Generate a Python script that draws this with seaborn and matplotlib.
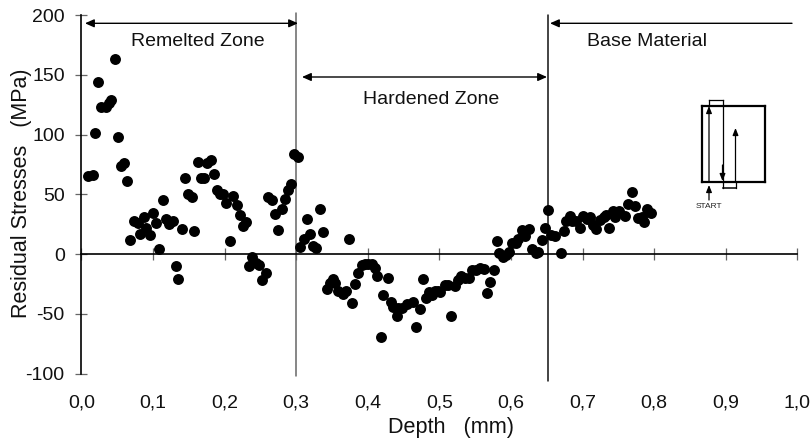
import matplotlib
matplotlib.use("Agg")
import matplotlib.pyplot as plt
import seaborn as sns
import pandas as pd

depth = [.009,.016,.024,.019,.028,.034,.038,.041,.047,.051,.055,.060,.064,.0685,.073,.079,.082,.087,.091,.096,.1006,.104,.109,.1136,.118,.122,.124,.128,.132,.135,.140,.145,.149,.154,.158,.163,.1665,.172,.176,.181,.1855,.189,.194,.1985,.2027,.208,.212,.217,.221,.2255,.230,.234,.239,.2436,.2486,.252,.258,.261,.266,.2705,.275,.280,.284,.288,.293,.297,.302,.306,.311,.315,.3197,.324,.328,.333,.337,.3425,.347,.352,.355,.359,.365,.369,.374,.378,.382,.387,.392,.396,.401,.4056,.410,.4135,.418,.422,.4280,.4320,.4355,.4405,.4425,.4485,.4545,.4635,.4675,.4725,.4771,.4815,.4850,.4895,.4935,.4975,.5015,.5075,.5115,.517,.5215,.5265,.531,.5355,.5412,.5455,.5515,.5575,.5625,.5665,.5705,.576,.5802,.584,.5885,.5932,.5975,.6015,.6065,.6105,.615,.6195,.6252,.6295,.6345,.6385,.6428,.6475,.6515,.6565,.6619,.6695,.674,.677,.6825,.6855,.6915,.6965,.7005,.706,.7105,.7145,.719,.7245,.7295,.733,.737,.7425,.7455,.7515,.7595,.763,.7685,.7735,.777,.7825,.7865,.7905,.7955]
stress = [65,66,144,101,123,123,126,129,163,98,74,76,61,11.7,27.6,26,17,31,22,16,34,26,4.7,45,29,25,27,28,-10,-21,21,64,50,48,19.5,77,64,63.6,76,79,67,54,50,50.5,42.7,11.4,48.5,40.7,32.6,23.7,27,-10.3,-2.5,-7.5,-9.2,-22,-16,48,45,33.8,20.4,38,45.7,54,59,84,81,6,12.5,29,17,7,5,37.5,18.7,-29,-24,-21,-24,-31,-33.5,-30.7,13,-40.7,-24.8,-16,-9,-8.6,-8.6,-8.6,-11.7,-18.4,-69,-34,-20,-40,-44,-52,-45,-45,-42,-40,-61,-46,-21,-37,-31.5,-34,-31,-31,-32,-25.7,-25.7,-52,-27,-21.5,-18,-20,-20,-13,-13,-11.4,-12.5,-32.6,-23,-13.4,11.4,.8,-2,-1,2,9,9,12.5,20,15,21,4.7,.8,1.7,12,22,36.5,15.6,14.8,1,19,28,32,28,28,21.8,32,29,31,24.5,21,28.7,31,33,22,35.7,31,35.7,32,41.8,51.6,40,30,31,26.5,37.7,34]
x_ticks = [0.0,0.1,0.2,0.3,0.4,0.5,0.6,0.7,0.8,0.9,1.0]
x_tick_labels = ["0,0","0,1","0,2","0,3","0,4","0,5","0,6","0,7","0,8","0,9","1,0"]
y_ticks = [-100,-50,0,50,100,150,200]
y_tick_labels = ["-100","-50","0","50","100","150","200"]
zone_edges = [0.3,0.652]

sns.set_theme(style="white")
plt.rcParams['font.family'] = ['Liberation Sans','DejaVu Sans']

W,H = 810,441
L,R,T,B = 81.3,797.3,15.0,373.7
fig = plt.figure(figsize=(W/100,H/100),dpi=100)
ax = fig.add_axes([L/W,1-B/H,(R-L)/W,(B-T)/H])
df = pd.DataFrame({"depth":depth,"stress":stress})
sns.scatterplot(data=df,x="depth",y="stress",ax=ax,color="black",s=62,linewidth=0,zorder=5,clip_on=False)
ax.set_xlim(0,1); ax.set_ylim(-100,200)
ax.patch.set_alpha(0)
for s in ("top","right"): ax.spines[s].set_visible(False)
ax.spines["left"].set(color="black",linewidth=1.2)
ax.spines["bottom"].set_position(("data",0))
ax.spines["bottom"].set(color="black",linewidth=1.2)
ax.set_xticks(x_ticks); ax.set_xticklabels(x_tick_labels)
ax.set_yticks(y_ticks); ax.set_yticklabels(y_tick_labels)
ax.tick_params(axis="x",direction="inout",length=9,width=0.9,color="#666666",labelsize=14,labelcolor="#111111",bottom=True,pad=96.5)
ax.tick_params(axis="y",direction="inout",length=9,width=0.9,color="#666666",labelsize=14,labelcolor="#111111",left=True,pad=7.5)
ax.set_xlabel(""); ax.set_ylabel("")
fig.text(451/W,1-427/H,"Depth   (mm)",ha="center",va="center",fontsize=15.6,color="#111111")
fig.text(22/W,1-193/H,"Residual Stresses   (MPa)",rotation=90,ha="center",va="center",fontsize=15.5,color="#111111")

def px(x,y): return ((x-L)/(R-L),(B-y)/(B-T)*300-100)

# zone boundaries
a,b = px(297.3,13),px(297.3,376)
ax.plot([zone_edges[0]]*2,[a[1],b[1]],color="#666666",lw=1.1,clip_on=False,zorder=2)
a,b = px(548,15),px(548,381)
ax.plot([zone_edges[1]]*2,[a[1],b[1]],color="#111111",lw=1.1,clip_on=False,zorder=2)
arrow = dict(arrowstyle="-|>,head_length=0.45,head_width=0.2",color="black",lw=1.0,shrinkA=0,shrinkB=0)
both = dict(arrowstyle="<|-|>,head_length=0.45,head_width=0.2",color="black",lw=1.0,shrinkA=0,shrinkB=0)
ax.annotate("",xy=px(85,23.3),xytext=px(298,23.3),arrowprops=both,annotation_clip=False)
ax.annotate("",xy=px(302,77),xytext=px(547,77),arrowprops=both,annotation_clip=False)
ax.annotate("",xy=px(550,23.3),xytext=px(792,23.3),arrowprops=arrow,annotation_clip=False)
for (cx,cy,s) in [(197.5,41,"Remelted Zone"),(431,100,"Hardened Zone"),(647,41,"Base Material")]:
    p = px(cx,cy)
    ax.text(p[0],p[1],s,ha="center",va="center",fontsize=14,color="#111111")

# inset sketch
def seg(x0,y0,x1,y1,**k):
    a,b = px(x0,y0),px(x1,y1)
    ax.plot([a[0],b[0]],[a[1],b[1]],color=k.get("c","black"),lw=k.get("lw",1.3),zorder=3,clip_on=False,solid_capstyle="projecting")
seg(702,106,765,106,lw=1.6); seg(765,106,765,182,lw=1.6); seg(765,182,702,182,lw=1.6); seg(702,182,702,106,lw=1.6)
seg(709,100,722.5,100,lw=0.9); seg(709,100,709,106,lw=0.9); seg(722.5,100,722.5,182,lw=0.9)
seg(722.5,188,735.5,188,lw=1.1); seg(722.5,182,722.5,188,lw=0.9); seg(735.5,182,735.5,188,lw=0.9)
small = dict(arrowstyle="-|>,head_length=0.35,head_width=0.14",color="black",lw=0.9,shrinkA=0,shrinkB=0)
def arr(x0,y0,x1,y1):
    ax.annotate("",xy=px(x1,y1),xytext=px(x0,y0),arrowprops=small,annotation_clip=False)
arr(709,182,709,106); arr(722.5,165,722.5,181); arr(735.5,182,735.5,128); arr(709,200,709,185)
t=px(709,207)
ax.text(t[0],t[1],"START",ha="center",va="center",fontsize=6,color="#222222")
fig.savefig("out.png",dpi=100)
